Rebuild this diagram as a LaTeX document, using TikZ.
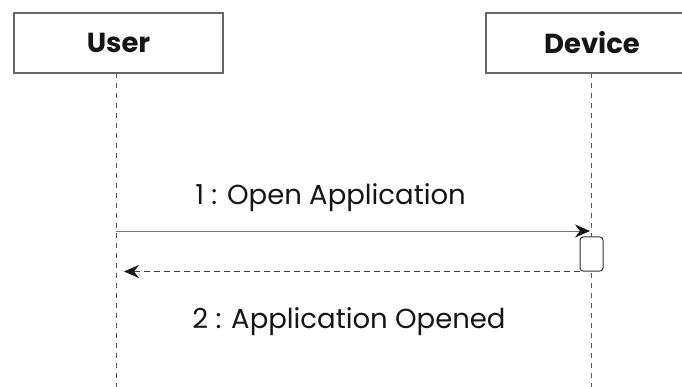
\documentclass[tikz,border=0pt]{standalone}
\usepackage{fontspec}
\setmainfont{Poppins}
\usetikzlibrary{arrows.meta}
\definecolor{boxline}{HTML}{666666}
\definecolor{lifeline}{HTML}{555555}
\definecolor{msgline}{HTML}{777777}
\definecolor{txt}{HTML}{151515}
\begin{document}
\begin{tikzpicture}[x=1pt,y=-1pt,
  actor/.style={draw=boxline,line width=1.4pt,fill=white,minimum width=209pt,minimum height=60pt,inner sep=0pt,text=txt,font=\fontsize{27.5}{30}\selectfont\bfseries},
  lifel/.style={draw=lifeline,line width=0.8pt,dash pattern=on 5pt off 5pt},
  actbox/.style={draw=black!80,line width=1pt,fill=white,rounded corners=3pt,minimum width=23pt,minimum height=34pt,inner sep=0pt},
  msgtext/.style={text=txt,font=\fontsize{27.5}{30}\selectfont,anchor=base,inner sep=0pt},
  tip/.style={-{Stealth[length=15pt,width=13pt,inset=5pt,color=black!90]}}
]
\useasboundingbox (0,0) rectangle (682,387);
\clip (0,0) rectangle (682,387);
\fill[white] (0,0) rectangle (682,387);
% lifelines
\coordinate (ua) at (116,73);
\coordinate (ub) at (116,390);
\coordinate (da) at (591,73);
\coordinate (db) at (591,390);
\draw[lifel] (ua) -- (ub);
\draw[lifel] (da) -- (db);
% actors
\node[actor] (user) at (118.5,43) {User};
\node[actor,minimum width=212pt] (device) at (592,43) {Device};
% activation
\node[actbox] (act) at (591.5,254) {};
% messages
\coordinate (m1s) at (116,231);
\coordinate (m1e) at (590,231);
\draw[msgline,line width=0.9pt,tip] (m1s) -- (m1e);
\coordinate (m2e) at (124,271.5);
\draw[black!75,line width=0.9pt,dash pattern=on 6pt off 4pt,tip] (act.south west) -- (m2e);
% labels
\node[msgtext] (l1) at (330.5,205) {1 : Open Application};
\node[msgtext] (l2) at (349,328) {2 : Application Opened};
\end{tikzpicture}
\end{document}
